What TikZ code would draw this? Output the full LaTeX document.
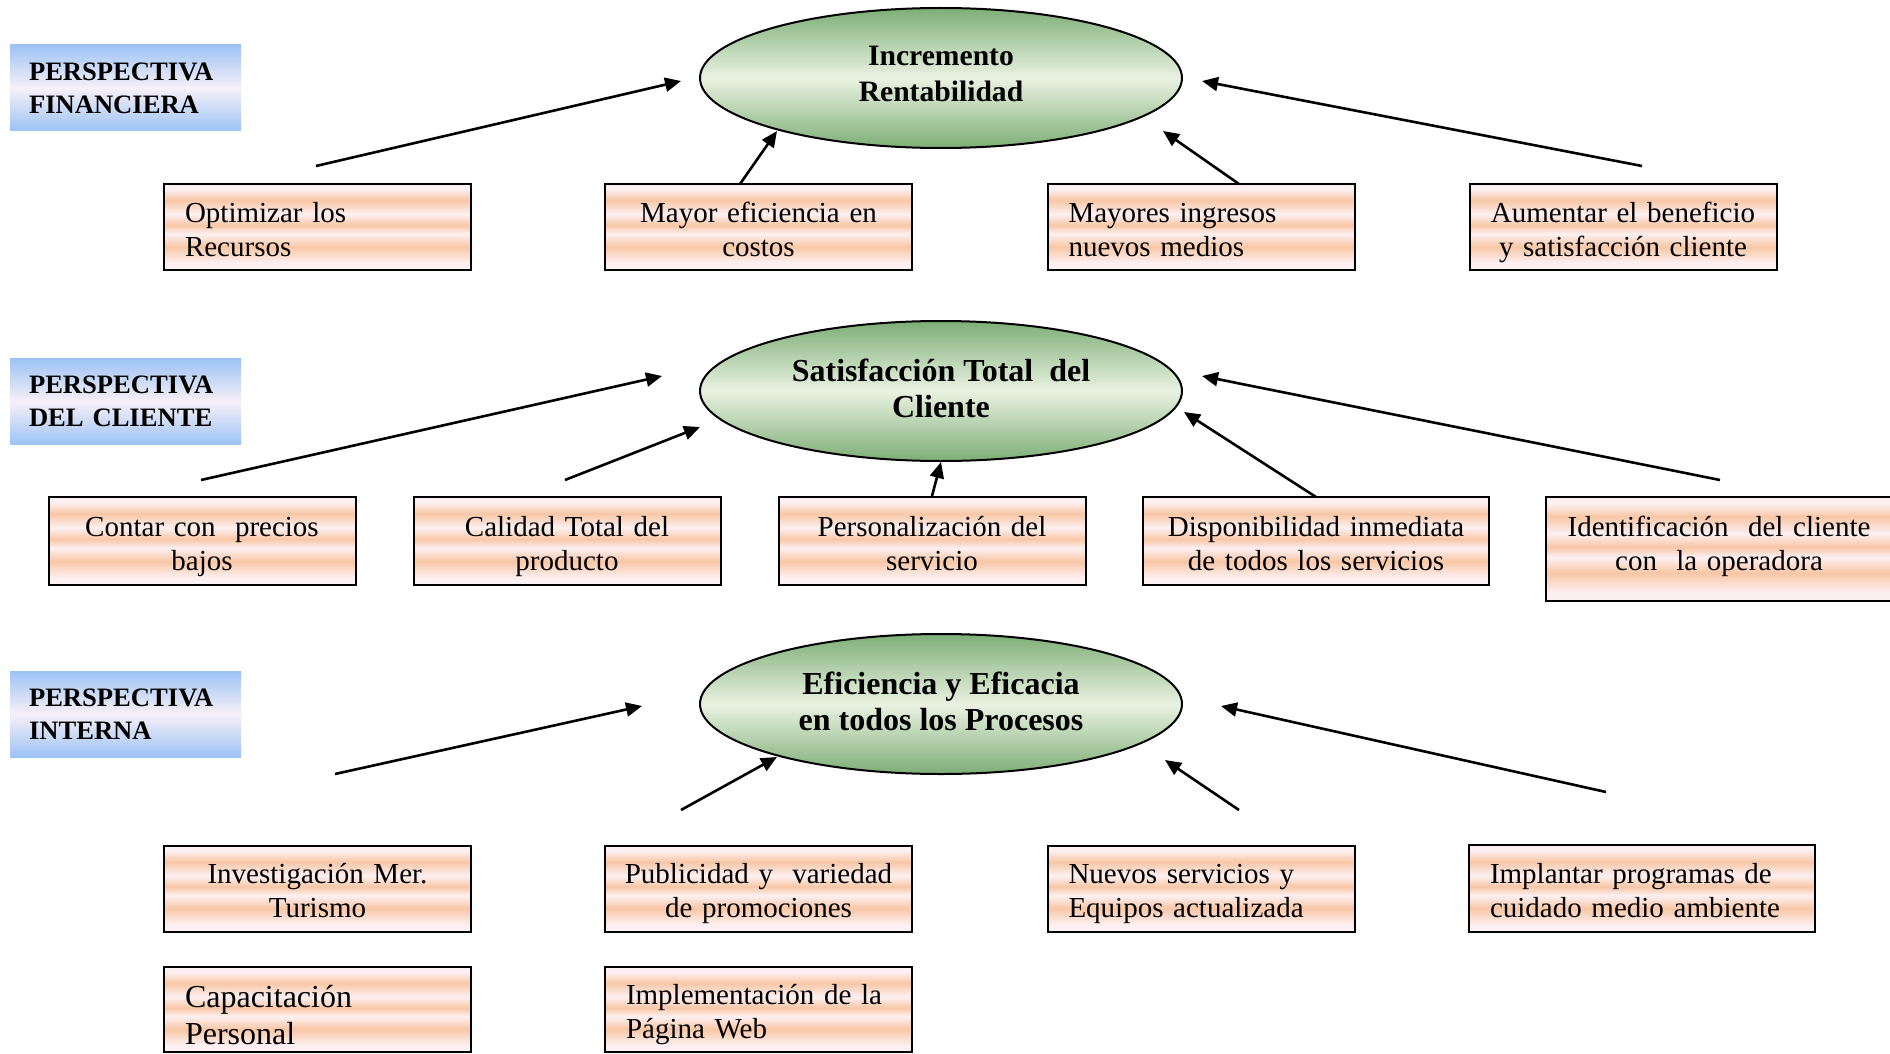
\documentclass[tikz,border=0pt]{standalone}
\usepackage{fontspec}
\setmainfont{Liberation Serif}
\usetikzlibrary{arrows.meta,shapes.geometric}
\definecolor{lt}{HTML}{FDF0F2}
\definecolor{pc}{HTML}{F8C7A6}
\definecolor{gA}{HTML}{7DAE76}
\definecolor{gB}{HTML}{EAF2E2}
\definecolor{bl}{HTML}{9CC3F5}
\definecolor{wp}{HTML}{F7F0F8}
\pgfdeclareverticalshading{stripes}{100bp}{color(0bp)=(lt); color(25bp)=(lt); color(29bp)=(lt); color(38.5bp)=(pc); color(46bp)=(lt); color(51bp)=(pc); color(57.5bp)=(lt); color(65.5bp)=(pc); color(72bp)=(lt); color(75bp)=(lt); color(100bp)=(lt)}
\pgfdeclareverticalshading{greenell}{100bp}{color(0bp)=(gA); color(25bp)=(gA); color(50bp)=(gB); color(75bp)=(gA); color(100bp)=(gA)}
\pgfdeclareverticalshading{bluelab}{100bp}{color(0bp)=(bl); color(25bp)=(bl); color(50bp)=(wp); color(75bp)=(bl); color(100bp)=(bl)}
\begin{document}
\begin{tikzpicture}[x=0.5pt,y=-0.5pt,
  box/.style={draw, line width=1pt, rectangle, shade, shading=stripes, inner xsep=10.5pt, inner ysep=0pt, text height=10pt, text depth=15pt, font=\fontsize{14.5}{17}\selectfont},
  std/.style={box, text width=132.5pt, minimum height=43pt},
  wide/.style={box, text width=152pt, minimum height=44pt},
  ell/.style={ellipse, draw, line width=1pt, shade, shading=greenell, minimum width=241pt, minimum height=70pt, inner sep=0pt, align=center, text height=28pt, text depth=1.4pt, font=\bfseries\fontsize{16}{18}\selectfont},
  persp/.style={rectangle, shade, shading=bluelab, minimum height=43pt, text width=96.5pt, inner xsep=9.5pt, inner ysep=0pt, align=left, font=\bfseries\fontsize{13.3}{16.5}\selectfont},
  arr/.style={line width=1.3pt, -{Triangle[length=8pt,width=7pt]}}]
\useasboundingbox (0,0) rectangle (1890,1054);

% perspective labels
\node[persp] (p1) at (125.5,88) {PERSPECTIVA\\FINANCIERA};
\node[persp] (p2) at (125.5,401.5) {PERSPECTIVA\\DEL CLIENTE};
\node[persp] (p3) at (125.5,714) {PERSPECTIVA\\INTERNA};

% ellipses
\node[ell, text height=27.2pt, text depth=3.4pt, font=\bfseries\fontsize{14.8}{18}\selectfont] (e1) at (941,78) {Incremento\\Rentabilidad};
\node[ell] (e2) at (941,391) {Satisfacción Total\ \ del\\Cliente};
\node[ell] (e3) at (941,704) {Eficiencia y Eficacia\\en todos los Procesos};

% row 1
\node[std, align=left] (b11) at (317.5,227) {Optimizar los\\Recursos};
\node[std, align=center] (b12) at (758.5,227) {Mayor eficiencia en\\costos};
\node[std, align=left] (b13) at (1201,227) {Mayores ingresos\\nuevos medios};
\node[std, align=center] (b14) at (1623,227) {Aumentar el beneficio\\y satisfacción cliente};

% row 2
\node[std, align=center, minimum height=44pt] (b21) at (202,541) {Contar con\ \ precios\\bajos};
\node[std, align=center, minimum height=44pt] (b22) at (567,541) {Calidad Total del\\producto};
\node[std, align=center, minimum height=44pt] (b23) at (932,541) {Personalización del\\servicio};
\node[wide, align=center] (b24) at (1316,541) {Disponibilidad inmediata\\de todos los servicios};
\node[wide, align=center, minimum height=52pt, text height=8pt, text depth=21pt] (b25) at (1719,549) {Identificación\ \ del cliente\\con\ \ la operadora};

% row 3
\node[std, align=center] (b31) at (317.5,888.5) {Investigación Mer.\\Turismo};
\node[std, align=center, inner xsep=5pt, text width=143.5pt] (b32) at (758.5,888.5) {Publicidad y\ \ variedad\\de promociones};
\node[std, align=left] (b33) at (1201,888.5) {Nuevos servicios y\\Equipos actualizada};
\node[wide, align=left, minimum height=43.5pt] (b34) at (1642,888.5) {Implantar programas de\\cuidado medio ambiente};

% row 4
\node[std, align=left, minimum height=42.5pt, text height=11pt, text depth=12.6pt, font=\fontsize{16}{18.5}\selectfont] (b41) at (317.5,1009.5) {Capacitación\\Personal};
\node[std, align=left, minimum height=42.5pt] (b42) at (758.5,1009.5) {Implementación de la\\Página Web};

% arrow end points
\coordinate (a1s) at (316,166);  \coordinate (a1e) at (681,81);
\coordinate (a2s) at (740,184);  \coordinate (a2e) at (777,131);
\coordinate (a3s) at (1239,184); \coordinate (a3e) at (1163,131);
\coordinate (a4s) at (1642,166); \coordinate (a4e) at (1202,81);

\coordinate (c1s) at (201,480);  \coordinate (c1e) at (662,376);
\coordinate (c2s) at (565,480);  \coordinate (c2e) at (700,427);
\coordinate (c4s) at (1316,497); \coordinate (c4e) at (1184,412);
\coordinate (c5s) at (1720,480); \coordinate (c5e) at (1202,376);

\coordinate (d1s) at (335,774);  \coordinate (d1e) at (642,706);
\coordinate (d2s) at (681,810);  \coordinate (d2e) at (777,757);
\coordinate (d3s) at (1239,810); \coordinate (d3e) at (1165,760);
\coordinate (d4s) at (1606,792); \coordinate (d4e) at (1221,706);

\draw[arr] (a1s) -- (a1e);
\draw[arr] (a2s) -- (a2e);
\draw[arr] (a3s) -- (a3e);
\draw[arr] (a4s) -- (a4e);

\draw[arr] (c1s) -- (c1e);
\draw[arr] (c2s) -- (c2e);
\draw[arr] (b23.north) -- (e2.south);
\draw[arr] (c4s) -- (c4e);
\draw[arr] (c5s) -- (c5e);

\draw[arr] (d1s) -- (d1e);
\draw[arr] (d2s) -- (d2e);
\draw[arr] (d3s) -- (d3e);
\draw[arr] (d4s) -- (d4e);
\end{tikzpicture}
\end{document}
